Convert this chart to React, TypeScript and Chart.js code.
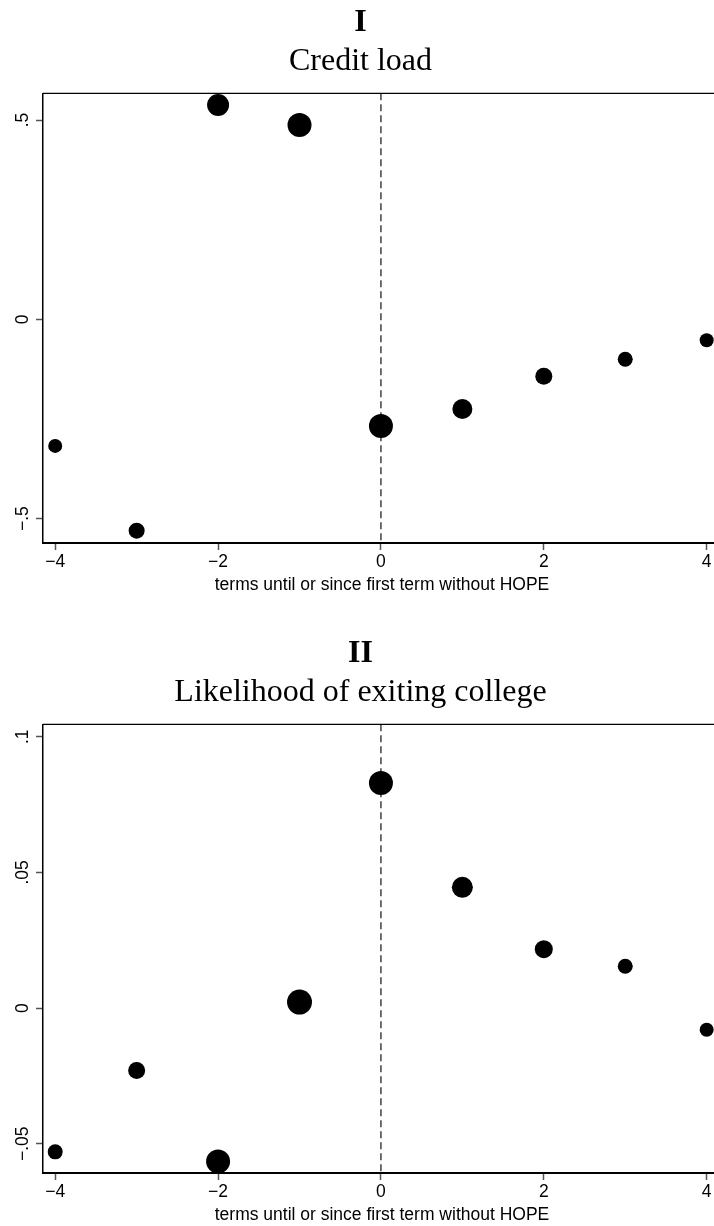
import React, { useEffect, useRef } from 'react';
import { Chart, registerables } from 'chart.js';

Chart.register(...registerables);

// ---- data ----
const termOffsets = [-4, -3, -2, -1, 0, 1, 2, 3, 4];

const creditLoad = [-0.3175, -0.53, 0.5375, 0.4875, -0.2675, -0.225, -0.1425, -0.1, -0.0525];
const creditMarkerRadius = [7, 8, 11, 12, 12, 10, 8.5, 7.5, 7];

const exitLikelihood = [-0.053, -0.023, -0.0566, 0.0022, 0.083, 0.0445, 0.0217, 0.0154, -0.008];
const exitMarkerRadius = [7.5, 8.5, 12, 12.5, 12, 10.5, 9, 7.5, 7];

const xTicks = [-4, -2, 0, 2, 4];
const xTickLabels = ['\u22124', '\u22122', '0', '2', '4'];

const creditYTicks = [-0.5, 0, 0.5];
const creditYTickLabels = ['\u2212.5', '0', '.5'];

const exitYTicks = [-0.05, 0, 0.05, 0.1];
const exitYTickLabels = ['\u2212.05', '0', '.05', '.1'];

const xAxisTitle = 'terms until or since first term without HOPE';
const referenceX = 0;

const SANS = "'Liberation Sans', Arial, Helvetica, sans-serif";
const SERIF = "'Liberation Serif', 'Times New Roman', serif";

const frameRefPlugin = {
  id: 'frameRef',
  beforeDatasetsDraw(chart: any) {
    const { ctx, chartArea, scales } = chart;
    const px = scales.x.getPixelForValue(referenceX);
    ctx.save();
    ctx.strokeStyle = '#111';
    ctx.lineWidth = 1.2;
    ctx.setLineDash([7, 4]);
    ctx.beginPath();
    ctx.moveTo(px, chartArea.top);
    ctx.lineTo(px, chartArea.bottom);
    ctx.stroke();
    ctx.setLineDash([]);
    ctx.strokeStyle = '#000';
    ctx.lineWidth = 1.3;
    ctx.beginPath();
    ctx.moveTo(chartArea.left, chartArea.top);
    ctx.lineTo(chartArea.right, chartArea.top);
    ctx.stroke();
    ctx.restore();
  },
};

type PanelProps = {
  numeral: string;
  title: string;
  values: number[];
  radii: number[];
  yTicks: number[];
  yTickLabels: string[];
  yMin: number;
  yMax: number;
  top: number;
  height: number;
  padBottom: number;
  yTickPadding: number;
};

function Panel(p: PanelProps) {
  const ref = useRef<HTMLCanvasElement | null>(null);
  useEffect(() => {
    if (!ref.current) return;
    const chart = new Chart(ref.current, {
      type: 'scatter',
      data: {
        datasets: [
          {
            data: termOffsets.map((x, i) => ({ x, y: p.values[i] })),
            pointRadius: p.radii,
            pointHoverRadius: p.radii,
            backgroundColor: '#000',
            borderColor: '#000',
            borderWidth: 0,
            clip: false as any,
          },
        ],
      },
      options: {
        responsive: true,
        maintainAspectRatio: false,
        animation: false,
        events: [],
        layout: { autoPadding: false, padding: { top: 0, left: 0, right: 0, bottom: p.padBottom } },
        plugins: {
          legend: { display: false },
          tooltip: { enabled: false },
          title: {
            display: true,
            text: p.numeral,
            color: '#000',
            font: { family: SERIF, size: 32, weight: 'bold' },
            padding: { top: 4, bottom: 0 },
          },
          subtitle: {
            display: true,
            text: p.title,
            color: '#000',
            font: { family: SERIF, size: 32, weight: 'normal' },
            padding: { top: 0, bottom: 12.5 },
          },
        },
        scales: {
          x: {
            type: 'linear',
            min: -4.15,
            max: 4.176,
            afterBuildTicks: (s: any) => {
              s.ticks = xTicks.map((v) => ({ value: v }));
            },
            grid: {
              drawOnChartArea: false,
              drawTicks: true,
              tickLength: 7,
              tickColor: '#555',
              tickWidth: 1.5,
            },
            border: { display: true, color: '#000', width: 2 },
            ticks: {
              color: '#000',
              font: { family: SANS, size: 17.5 },
              padding: 2,
              minRotation: 0,
              maxRotation: 0,
              autoSkip: false,
              callback: (_v: any, i: number) => xTickLabels[i],
            },
            title: {
              display: true,
              text: xAxisTitle,
              color: '#000',
              font: { family: SANS, size: 17.5 },
              padding: { top: 0, bottom: 0 },
            },
          },
          y: {
            type: 'linear',
            min: p.yMin,
            max: p.yMax,
            afterBuildTicks: (s: any) => {
              s.ticks = p.yTicks.map((v) => ({ value: v }));
            },
            afterFit: (s: any) => {
              s.width = 43;
            },
            grid: {
              drawOnChartArea: false,
              drawTicks: true,
              tickLength: 7,
              tickColor: '#555',
              tickWidth: 1.5,
            },
            border: { display: true, color: '#000', width: 1.5 },
            ticks: {
              color: '#000',
              font: { family: SANS, size: 17.5 },
              padding: p.yTickPadding,
              minRotation: 90,
              maxRotation: 90,
              crossAlign: 'center',
              autoSkip: false,
              callback: (_v: any, i: number) => p.yTickLabels[i],
            },
          },
        },
      } as any,
      plugins: [frameRefPlugin],
    });
    return () => chart.destroy();
  }, []);
  return (
    <div style={{ position: 'absolute', left: 0, top: p.top, width: 721, height: p.height }}>
      <canvas ref={ref} />
    </div>
  );
}

export default function App() {
  return (
    <div
      style={{
        position: 'absolute',
        left: 0,
        top: 0,
        width: 714,
        height: 1226,
        overflow: 'hidden',
        background: '#fff',
      }}
    >
      <Panel
        numeral="I"
        title="Credit load"
        values={creditLoad}
        radii={creditMarkerRadius}
        yTicks={creditYTicks}
        yTickLabels={creditYTickLabels}
        yMin={-0.561}
        yMax={0.567}
        top={0}
        height={600}
        padBottom={4}
        yTickPadding={0}
      />
      <Panel
        numeral="II"
        title="Likelihood of exiting college"
        values={exitLikelihood}
        radii={exitMarkerRadius}
        yTicks={exitYTicks}
        yTickLabels={exitYTickLabels}
        yMin={-0.0608}
        yMax={0.1046}
        top={631}
        height={595}
        padBottom={0}
        yTickPadding={-4}
      />
    </div>
  );
}
